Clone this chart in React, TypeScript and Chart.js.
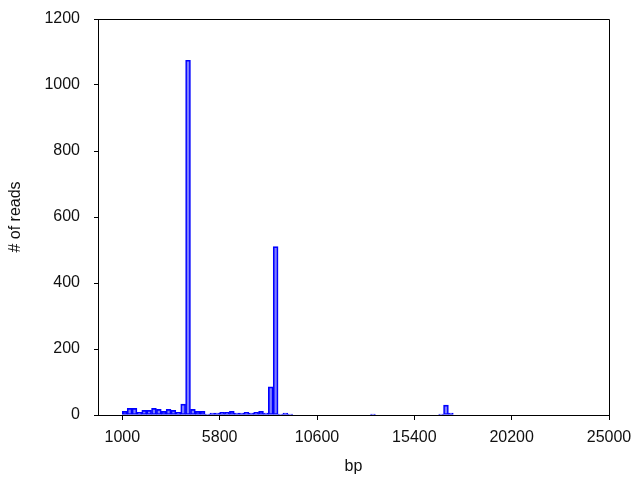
import React, { useEffect, useRef } from "react";
import { Chart, registerables } from "chart.js";

Chart.register(...registerables);

// Histogram bins (left edge in bp) and read counts per bin
const binWidth = 240;
const binStarts = [
  1000, 1240, 1480, 1720, 1960, 2200, 2440, 2680, 2920, 3160,
  3400, 3640, 3880, 4120, 4360, 4600, 4840, 5080, 5320, 5560,
  5800, 6040, 6280, 6520, 6760, 7000, 7240, 7480, 7720, 7960,
  8200, 8440, 8680, 8920, 9160, 13240, 16600, 16840, 17080,
];
const readCounts = [
  11, 20, 20, 8, 14, 14, 20, 17, 11, 17,
  14, 8, 33, 1075, 17, 11, 11, 3, 6, 6,
  8, 8, 11, 6, 6, 8, 6, 8, 11, 6,
  85, 510, 3, 6, 3, 3, 3, 30, 6,
];
const xTickValues = [1000, 5800, 10600, 15400, 20200, 25000];
const yTickValues = [0, 200, 400, 600, 800, 1000, 1200];

const FONT = "'Liberation Sans', Arial, sans-serif";

const framePlugin = {
  id: "frame",
  afterDraw(chart: any) {
    const { ctx, chartArea } = chart;
    const { left, top, right, bottom } = chartArea;
    ctx.save();
    ctx.strokeStyle = "#000";
    ctx.lineWidth = 1;
    ctx.beginPath();
    ctx.moveTo(Math.round(left) + 0.5, Math.round(top) + 0.5);
    ctx.lineTo(Math.round(right) + 0.5, Math.round(top) + 0.5);
    ctx.lineTo(Math.round(right) + 0.5, Math.round(bottom) + 0.5);
    ctx.stroke();
    ctx.restore();
  },
};

export default function App() {
  const canvasRef = useRef<HTMLCanvasElement | null>(null);

  useEffect(() => {
    const canvas = canvasRef.current;
    if (!canvas) return;
    const data = binStarts.map((s, i) => ({ x: s + binWidth / 2, y: readCounts[i] }));
    const chart = new Chart(canvas, {
      type: "bar",
      data: {
        datasets: [
          {
            data: data as any,
            backgroundColor: "rgba(0,0,255,0.5)",
            borderColor: "#0000ff",
            borderWidth: 1,
            borderSkipped: false,
            barPercentage: 1,
            categoryPercentage: 1,
          },
        ],
      },
      options: {
        animation: false,
        responsive: false,
        devicePixelRatio: 1,
        layout: { padding: { top: 19, right: 31, left: 0, bottom: 0 } },
        plugins: {
          legend: { display: false },
          tooltip: { enabled: false },
        },
        scales: {
          x: {
            type: "linear",
            min: -200,
            max: 25000,
            offset: false,
            grid: {
              offset: false,
              drawOnChartArea: false,
              drawTicks: true,
              tickLength: 5,
              color: "#000",
              tickColor: "#000",
            },
            border: { display: true, color: "#000", width: 1 },
            afterBuildTicks: (scale: any) => {
              scale.ticks = xTickValues.map((v) => ({ value: v }));
            },
            afterFit: (scale: any) => {
              scale.height = 65;
              scale.paddingLeft = 0;
              scale.paddingRight = 0;
            },
            ticks: {
              autoSkip: false,
              maxRotation: 0,
              padding: 8,
              color: "#111",
              font: { family: FONT, size: 16 },
              callback: (v: any) => String(v),
            },
            title: {
              display: true,
              text: "bp",
              color: "#111",
              font: { family: FONT, size: 16 },
              padding: { top: 0, bottom: 4 },
            },
          },
          y: {
            type: "linear",
            min: 0,
            max: 1200,
            grid: {
              drawOnChartArea: false,
              drawTicks: true,
              tickLength: 4,
              color: "#000",
              tickColor: "#000",
            },
            border: { display: true, color: "#000", width: 1 },
            afterBuildTicks: (scale: any) => {
              scale.ticks = yTickValues.map((v) => ({ value: v }));
            },
            afterFit: (scale: any) => {
              scale.width = 98;
              scale.paddingTop = 0;
              scale.paddingBottom = 0;
            },
            ticks: {
              autoSkip: false,
              padding: 14,
              color: "#111",
              font: { family: FONT, size: 16 },
              callback: (v: any) => String(v),
            },
            title: {
              display: true,
              text: "# of reads",
              color: "#111",
              font: { family: FONT, size: 16 },
              padding: { top: 6, bottom: 0 },
            },
          },
        },
      },
      plugins: [framePlugin],
    });
    return () => chart.destroy();
  }, []);

  return (
    <div style={{ position: "fixed", left: 0, top: 0, width: 640, height: 480, background: "#fff" }}>
      <canvas ref={canvasRef} width={640} height={480} style={{ display: "block" }} />
    </div>
  );
}
